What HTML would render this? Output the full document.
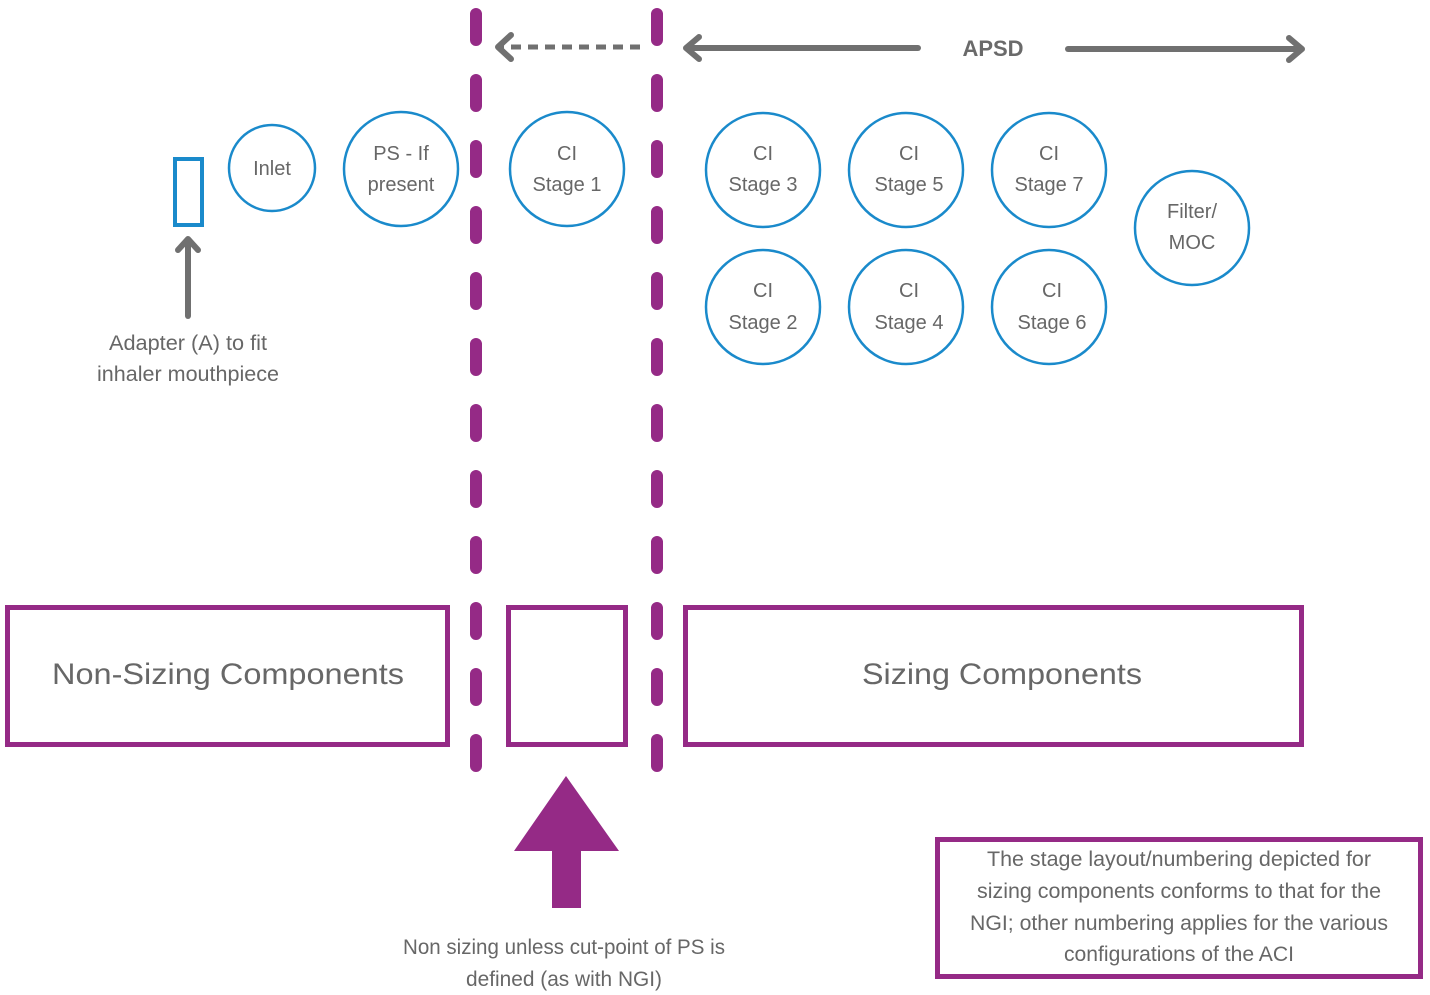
<!DOCTYPE html>
<html><head><meta charset="utf-8"><style>
html,body{margin:0;padding:0;background:#fff;}
svg{display:block;}
text{font-family:"Liberation Sans",sans-serif;fill:#676767;}
</style></head><body>
<svg width="1430" height="995" viewBox="0 0 1430 995" xmlns="http://www.w3.org/2000/svg">
<g stroke="#952a86" stroke-width="12" stroke-linecap="round" fill="none">
<line x1="476" y1="14" x2="476" y2="772" stroke-dasharray="26 40"/>
<line x1="657" y1="14" x2="657" y2="772" stroke-dasharray="26 40"/>
</g>
<g stroke="#707070" stroke-width="6" fill="none" stroke-linecap="round" stroke-linejoin="round">
<line x1="640" y1="47" x2="500" y2="47" stroke-dasharray="10 7" stroke-linecap="butt" stroke-width="5"/>
<polyline points="511,35 498,47 511,59"/>
<line x1="918" y1="48" x2="688" y2="48"/>
<polyline points="699,37 686,48 699,59"/>
<line x1="1068" y1="49" x2="1300" y2="49"/>
<polyline points="1289,38 1302,49 1289,60"/>
<line x1="188" y1="316" x2="188" y2="240"/>
<polyline points="178,250 188,239 198,250"/>
</g>
<text x="993" y="56" text-anchor="middle" font-size="22" font-weight="bold" style="fill:#6a6a6a">APSD</text>
<rect x="175" y="159" width="27" height="66" fill="none" stroke="#1a8acb" stroke-width="4"/>
<g fill="none" stroke="#1a8acb" stroke-width="2.5">
<circle cx="272" cy="168" r="43"/>
<circle cx="401" cy="169" r="57"/>
<circle cx="567" cy="169" r="57"/>
<circle cx="763" cy="170" r="57"/>
<circle cx="906" cy="170" r="57"/>
<circle cx="1049" cy="170" r="57"/>
<circle cx="763" cy="307" r="57"/>
<circle cx="906" cy="307" r="57"/>
<circle cx="1049" cy="307" r="57"/>
<circle cx="1192" cy="228" r="57"/>
</g>
<g font-size="20" text-anchor="middle">
<text x="272" y="175">Inlet</text>
<text x="401" y="160">PS - If</text><text x="401" y="191">present</text>
<text x="567" y="160">CI</text><text x="567" y="191">Stage 1</text>
<text x="763" y="160">CI</text><text x="763" y="191">Stage 3</text>
<text x="909" y="160">CI</text><text x="909" y="191">Stage 5</text>
<text x="1049" y="160">CI</text><text x="1049" y="191">Stage 7</text>
<text x="763" y="297">CI</text><text x="763" y="329">Stage 2</text>
<text x="909" y="297">CI</text><text x="909" y="329">Stage 4</text>
<text x="1052" y="297">CI</text><text x="1052" y="329">Stage 6</text>
<text x="1192" y="218">Filter/</text><text x="1192" y="249">MOC</text>
</g>
<g font-size="21" text-anchor="middle">
<text x="188" y="350" textLength="158" lengthAdjust="spacingAndGlyphs">Adapter (A) to fit</text>
<text x="188" y="381" textLength="182" lengthAdjust="spacingAndGlyphs">inhaler mouthpiece</text>
<text x="564" y="954" textLength="322" lengthAdjust="spacingAndGlyphs">Non sizing unless cut-point of PS is</text>
<text x="564" y="986" textLength="196" lengthAdjust="spacingAndGlyphs">defined (as with NGI)</text>
<text x="1179" y="866" textLength="384" lengthAdjust="spacingAndGlyphs">The stage layout/numbering depicted for</text>
<text x="1179" y="898" textLength="404" lengthAdjust="spacingAndGlyphs">sizing components conforms to that for the</text>
<text x="1179" y="930" textLength="418" lengthAdjust="spacingAndGlyphs">NGI; other numbering applies for the various</text>
<text x="1179" y="961" textLength="230" lengthAdjust="spacingAndGlyphs">configurations of the ACI</text>
</g>
<g fill="none" stroke="#952a86" stroke-width="5">
<rect x="7.5" y="607.5" width="440" height="137"/>
<rect x="508.5" y="607.5" width="117" height="137"/>
<rect x="685.5" y="607.5" width="616" height="137"/>
<rect x="937.5" y="839.5" width="483" height="137"/>
</g>
<text x="228" y="684" text-anchor="middle" font-size="30" textLength="352" lengthAdjust="spacingAndGlyphs">Non-Sizing Components</text>
<text x="1002" y="684" text-anchor="middle" font-size="30" textLength="280" lengthAdjust="spacingAndGlyphs">Sizing Components</text>
<polygon points="566,776 619,851 581,851 581,908 552,908 552,851 514,851" fill="#952a86"/>
</svg>
</body></html>
